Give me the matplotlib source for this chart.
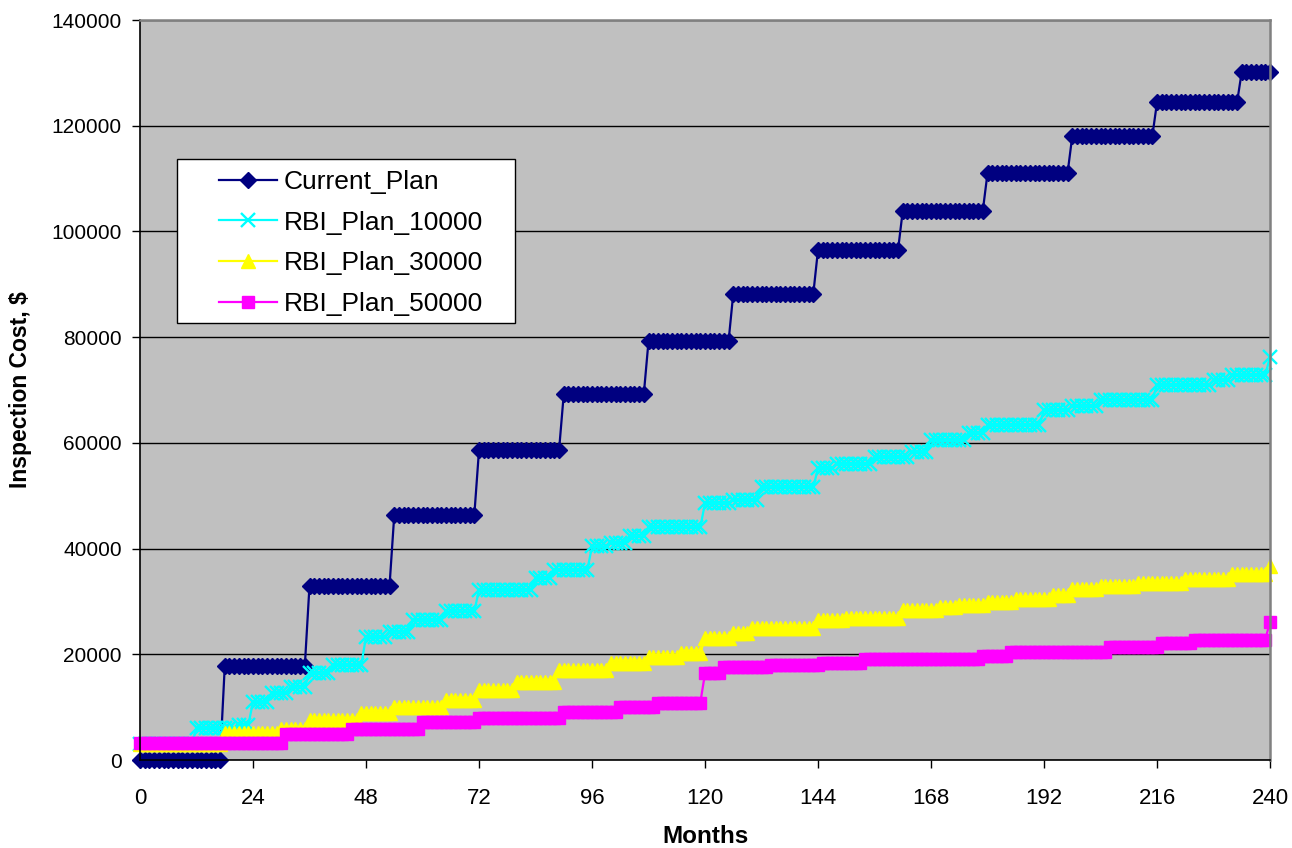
import numpy as np
import matplotlib
matplotlib.use('Agg')
import matplotlib.pyplot as plt
from matplotlib.patches import Rectangle

plt.rcParams['font.family'] = ['Liberation Sans', 'DejaVu Sans']

months = np.arange(0, 241)

# each plan is a staircase: month at which a new cost level starts, and that level ($)
current_start = [0, 18, 36, 54, 72, 90, 108, 126, 144, 162, 180, 198, 216, 234]
current_cost = [0, 17700, 33000, 46300, 58600, 69200, 79200, 88200, 96500,
                103900, 111000, 118000, 124400, 130200]

rbi10_start = [0, 12, 21, 24, 28, 32, 36, 41, 48, 53, 58, 65, 72, 84, 88, 96,
               100, 104, 108, 120, 126, 132, 144, 148, 156, 164, 168, 176, 180,
               192, 198, 204, 216, 228, 232, 240]
rbi10_cost = [3000, 6000, 6600, 11000, 12700, 13900, 16400, 18000, 23300, 24300,
              26500, 28100, 32200, 34400, 35900, 40400, 41000, 42300, 44000,
              48600, 49200, 51600, 55200, 56000, 57300, 58300, 60600, 61800,
              63400, 66200, 67000, 68200, 70900, 71900, 72800, 76300]

rbi30_start = [0, 18, 30, 36, 47, 54, 65, 72, 80, 89, 100, 108, 115, 120, 126,
               130, 144, 150, 162, 170, 174, 180, 186, 194, 198, 204, 212, 222,
               232, 240]
rbi30_cost = [3000, 5200, 5800, 7500, 8800, 10000, 11300, 13200, 14800, 17000,
              18300, 19500, 20200, 23000, 24000, 24900, 26400, 26800, 28400,
              28900, 29300, 29900, 30400, 31200, 32300, 32900, 33500, 34200,
              35200, 36700]

rbi50_start = [0, 31, 45, 60, 72, 90, 102, 110, 120, 124, 134, 145, 154, 179,
               185, 206, 217, 224, 240]
rbi50_cost = [3300, 5000, 5900, 7200, 7900, 9100, 10100, 10800, 16400, 17600,
              18000, 18300, 19200, 19700, 20400, 21400, 22100, 22700, 26200]


def expand(starts, costs):
    # repeat every level until the next one starts
    spans = np.diff(starts + [len(months)])
    return np.repeat(costs, spans)


current = expand(current_start, current_cost)
rbi10 = expand(rbi10_start, rbi10_cost)
rbi30 = expand(rbi30_start, rbi30_cost)
rbi50 = expand(rbi50_start, rbi50_cost)

W, H = 1292, 848
fig = plt.figure(figsize=(W / 100, H / 100), dpi=100)
ax = fig.add_axes([140 / W, 88 / H, 1130 / W, 740 / H])
ax.set_facecolor('#C0C0C0')

ax.plot(months, current, color='#000080', lw=1.6, marker='D', ms=8,
        label='Current_Plan', clip_on=False)
ax.plot(months, rbi10, color='#00FFFF', lw=1.6, marker='x', ms=10, mew=1.7,
        label='RBI_Plan_10000', clip_on=False)
ax.plot(months, rbi30, color='#FFFF00', lw=1.6, marker='^', ms=10,
        label='RBI_Plan_30000', clip_on=False)
ax.plot(months, rbi50, color='#FF00FF', lw=1.6, marker='s', ms=9,
        label='RBI_Plan_50000', clip_on=False)

ax.set_xlim(0, 240)
ax.set_ylim(0, 140000)
ax.set_xticks(np.arange(0, 241, 24))
ax.set_yticks(np.arange(0, 140001, 20000))
ax.yaxis.grid(True, color='black', lw=1)
ax.set_axisbelow(True)

ax.tick_params(axis='y', direction='out', length=6, width=1, pad=7, labelsize=15)
ax.tick_params(axis='x', direction='out', length=6, width=1, pad=14, labelsize=16)

for side in ('left', 'bottom'):
    ax.spines[side].set_color('black')
    ax.spines[side].set_linewidth(1.2)
for side in ('top', 'right'):
    ax.spines[side].set_color('#808080')
    ax.spines[side].set_linewidth(1.8)

ax.set_xlabel('Months', fontsize=17.5, fontweight='bold', labelpad=12)
ax.set_ylabel('Inspection Cost, $', fontsize=16.5, fontweight='bold', labelpad=14)

# legend frame drawn separately so the padding can be set freely
ax.add_patch(Rectangle((176.7 / W, 1 - 323.3 / H), 338.3 / W, 164 / H,
                       transform=fig.transFigure, facecolor='white',
                       edgecolor='black', lw=1, zorder=4.5))
ax.legend(loc='upper left', bbox_to_anchor=(219.3 / W, 1 - 170 / H),
          bbox_transform=fig.transFigure, frameon=False, fontsize=19,
          handlelength=2.2, handletextpad=0.25, labelspacing=0.63,
          borderpad=0, borderaxespad=0)

fig.savefig('out.png', dpi=100)
